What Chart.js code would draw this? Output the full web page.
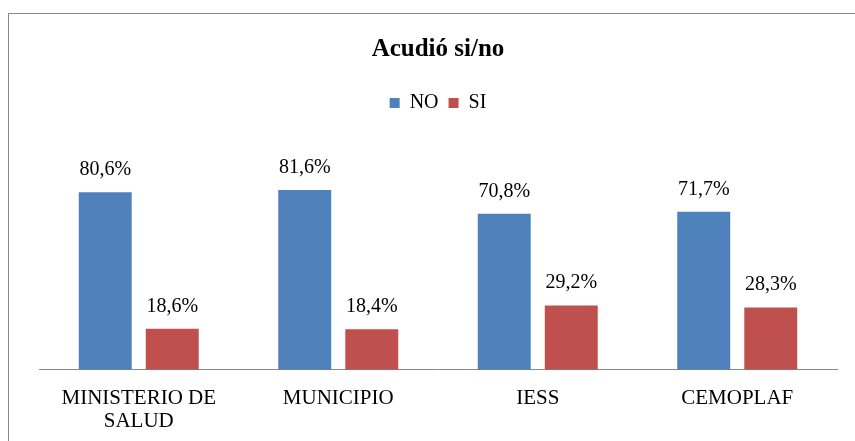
<!DOCTYPE html>
<html>
<head>
<meta charset="utf-8">
<script src="https://cdn.jsdelivr.net/npm/chart.js@4/dist/chart.umd.min.js"></script>
<style>
  html, body { margin: 0; padding: 0; background: #fff; }
  #wrap { width: 855px; height: 441px; }
</style>
</head>
<body>
<div id="wrap"><canvas id="chart" width="855" height="441"></canvas></div>
<script>
const categories = [['MINISTERIO DE', 'SALUD'], 'MUNICIPIO', 'IESS', 'CEMOPLAF'];
const noValues = [80.6, 81.6, 70.8, 71.7];
const siValues = [18.6, 18.4, 29.2, 28.3];

const serif = "'Liberation Serif', 'Times New Roman', serif";

// frame around the chart (right and bottom edges fall outside the picture)
const framePlugin = {
  id: 'frame',
  beforeDraw(chart) {
    const ctx = chart.ctx;
    ctx.save();
    ctx.strokeStyle = '#8a8a8a';
    ctx.lineWidth = 1;
    ctx.strokeRect(8.5, 13.5, 900, 500);
    ctx.restore();
  }
};

// value labels above each bar, written with a comma decimal
const valueLabels = {
  id: 'valueLabels',
  afterDatasetsDraw(chart) {
    const ctx = chart.ctx;
    ctx.save();
    ctx.font = '20px ' + serif;
    ctx.fillStyle = '#000';
    ctx.textAlign = 'center';
    ctx.textBaseline = 'alphabetic';
    chart.data.datasets.forEach((ds, i) => {
      chart.getDatasetMeta(i).data.forEach((bar, j) => {
        const txt = ds.data[j].toFixed(1).replace('.', ',') + '%';
        ctx.fillText(txt, bar.x, bar.y - 17);
      });
    });
    ctx.restore();
  }
};

new Chart(document.getElementById('chart').getContext('2d'), {
  type: 'bar',
  data: {
    labels: categories,
    datasets: [
      { label: 'NO', data: noValues, backgroundColor: '#4F81BD' },
      { label: 'SI', data: siValues, backgroundColor: '#C0504D' }
    ]
  },
  options: {
    responsive: false,
    animation: false,
    layout: { padding: { left: 39, right: 18, top: 0, bottom: -1 } },
    categoryPercentage: 0.672,
    barPercentage: 0.79,
    plugins: {
      title: {
        display: true,
        text: 'Acudió si/no',
        color: '#000',
        font: { family: serif, size: 25, weight: 'bold' },
        padding: { top: 35, bottom: 18 }
      },
      legend: {
        position: 'top',
        labels: {
          color: '#000',
          font: { family: serif, size: 20 },
          boxWidth: 10,
          boxHeight: 10,
          padding: 10
        }
      },
      tooltip: { enabled: false }
    },
    scales: {
      x: {
        grid: { display: false },
        border: { display: true, color: '#888', width: 1 },
        ticks: {
          color: '#000',
          font: { family: serif, size: 21, lineHeight: 1.1 },
          maxRotation: 0,
          padding: 9
        }
      },
      y: {
        display: false,
        min: 0,
        max: 112
      }
    }
  },
  plugins: [framePlugin, valueLabels]
});
</script>
</body>
</html>
